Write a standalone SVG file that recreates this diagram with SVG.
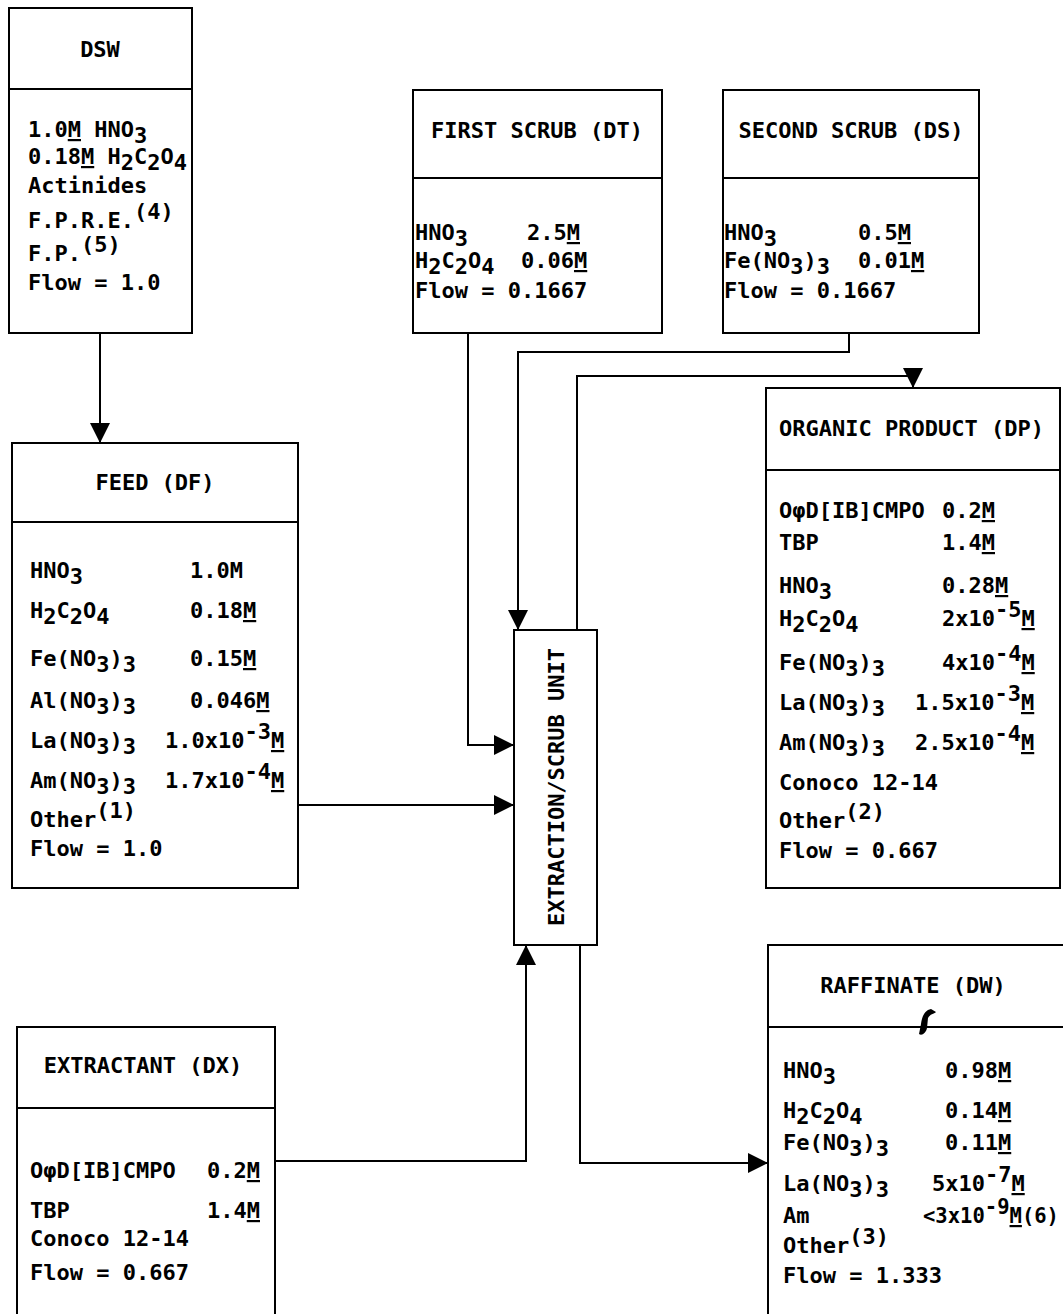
<svg xmlns="http://www.w3.org/2000/svg" width="1063" height="1314" viewBox="0 0 1063 1314">
<style>
.t{font-family:"DejaVu Sans Mono","Liberation Mono",monospace;font-size:22px;font-weight:bold;fill:#000}
.c{text-anchor:middle}
.u{text-decoration:underline}
.b{fill:#fff;stroke:#000;stroke-width:2}
.l{stroke:#000;stroke-width:2;fill:none}
</style>
<defs>
<marker id="ah" viewBox="0 0 10 10" refX="10" refY="5" markerWidth="20" markerHeight="20" markerUnits="userSpaceOnUse" orient="auto">
<path d="M0,0 L10,5 L0,10 z" fill="#000"/>
</marker>
</defs>
<rect width="1063" height="1314" fill="#fff"/>

<g id="connectors">
<path class="l" d="M100,333 V443" marker-end="url(#ah)"/>
<path class="l" d="M468,333 V745 H514" marker-end="url(#ah)"/>
<path class="l" d="M849,333 V352 H518 V630" marker-end="url(#ah)"/>
<path class="l" d="M298,805 H514" marker-end="url(#ah)"/>
<path class="l" d="M275,1161 H526 V945" marker-end="url(#ah)"/>
<path class="l" d="M580,945 V1163 H768" marker-end="url(#ah)"/>
<path class="l" d="M577,630 V376 H913 V388" marker-end="url(#ah)"/>
</g>

<g id="dsw">
<rect class="b" x="9" y="8" width="183" height="325"/>
<line class="l" x1="9" y1="89" x2="192" y2="89"/>
<text class="t c" x="100" y="57">DSW</text>
<text class="t" x="28" y="137">1.0<tspan class="u">M</tspan> HNO<tspan dy="6">3</tspan></text>
<text class="t" x="28" y="164">0.18<tspan class="u">M</tspan> H<tspan dy="6">2</tspan><tspan dy="-6">C</tspan><tspan dy="6">2</tspan><tspan dy="-6">O</tspan><tspan dy="6">4</tspan></text>
<text class="t" x="28" y="193">Actinides</text>
<text class="t" x="28" y="228">F.P.R.E.<tspan dy="-9">(4)</tspan></text>
<text class="t" x="28" y="261">F.P.<tspan dy="-9">(5)</tspan></text>
<text class="t" x="28" y="290">Flow = 1.0</text>
</g>

<g id="first-scrub">
<rect class="b" x="413" y="90" width="249" height="243"/>
<line class="l" x1="413" y1="178" x2="662" y2="178"/>
<text class="t c" x="537" y="138">FIRST SCRUB (DT)</text>
<text class="t" x="415" y="240">HNO<tspan dy="6">3</tspan></text>
<text class="t" x="527" y="240">2.5<tspan class="u">M</tspan></text>
<text class="t" x="415" y="268">H<tspan dy="6">2</tspan><tspan dy="-6">C</tspan><tspan dy="6">2</tspan><tspan dy="-6">O</tspan><tspan dy="6">4</tspan></text>
<text class="t" x="521" y="268">0.06<tspan class="u">M</tspan></text>
<text class="t" x="415" y="298">Flow = 0.1667</text>
</g>

<g id="second-scrub">
<rect class="b" x="723" y="90" width="256" height="243"/>
<line class="l" x1="723" y1="178" x2="979" y2="178"/>
<text class="t c" x="851" y="138">SECOND SCRUB (DS)</text>
<text class="t" x="724" y="240">HNO<tspan dy="6">3</tspan></text>
<text class="t" x="858" y="240">0.5<tspan class="u">M</tspan></text>
<text class="t" x="724" y="268">Fe(NO<tspan dy="6">3</tspan><tspan dy="-6">)</tspan><tspan dy="6">3</tspan></text>
<text class="t" x="858" y="268">0.01<tspan class="u">M</tspan></text>
<text class="t" x="724" y="298">Flow = 0.1667</text>
</g>

<g id="feed">
<rect class="b" x="12" y="443" width="286" height="445"/>
<line class="l" x1="12" y1="522" x2="298" y2="522"/>
<text class="t c" x="155" y="490">FEED (DF)</text>
<text class="t" x="30" y="578">HNO<tspan dy="6">3</tspan></text>
<text class="t" x="190" y="578">1.0M</text>
<text class="t" x="30" y="618">H<tspan dy="6">2</tspan><tspan dy="-6">C</tspan><tspan dy="6">2</tspan><tspan dy="-6">O</tspan><tspan dy="6">4</tspan></text>
<text class="t" x="190" y="618">0.18<tspan class="u">M</tspan></text>
<text class="t" x="30" y="666">Fe(NO<tspan dy="6">3</tspan><tspan dy="-6">)</tspan><tspan dy="6">3</tspan></text>
<text class="t" x="190" y="666">0.15<tspan class="u">M</tspan></text>
<text class="t" x="30" y="708">Al(NO<tspan dy="6">3</tspan><tspan dy="-6">)</tspan><tspan dy="6">3</tspan></text>
<text class="t" x="190" y="708">0.046<tspan class="u">M</tspan></text>
<text class="t" x="30" y="748">La(NO<tspan dy="6">3</tspan><tspan dy="-6">)</tspan><tspan dy="6">3</tspan></text>
<text class="t" x="165" y="748">1.0x10<tspan dy="-9">-3</tspan><tspan dy="9" class="u">M</tspan></text>
<text class="t" x="30" y="788">Am(NO<tspan dy="6">3</tspan><tspan dy="-6">)</tspan><tspan dy="6">3</tspan></text>
<text class="t" x="165" y="788">1.7x10<tspan dy="-9">-4</tspan><tspan dy="9" class="u">M</tspan></text>
<text class="t" x="30" y="827">Other<tspan dy="-9">(1)</tspan></text>
<text class="t" x="30" y="856">Flow = 1.0</text>
</g>

<g id="extraction-scrub-unit">
<rect class="b" x="514" y="630" width="83" height="315"/>
<text class="t c" transform="translate(556,787) rotate(-90)" x="0" y="8">EXTRACTION/SCRUB UNIT</text>
</g>

<g id="organic-product">
<rect class="b" x="766" y="388" width="294" height="500"/>
<line class="l" x1="766" y1="470" x2="1060" y2="470"/>
<text class="t" x="779" y="436">ORGANIC PRODUCT (DP)</text>
<text class="t" x="779" y="518">OφD[IB]CMPO</text>
<text class="t" x="942" y="518">0.2<tspan class="u">M</tspan></text>
<text class="t" x="779" y="550">TBP</text>
<text class="t" x="942" y="550">1.4<tspan class="u">M</tspan></text>
<text class="t" x="779" y="593">HNO<tspan dy="6">3</tspan></text>
<text class="t" x="942" y="593">0.28<tspan class="u">M</tspan></text>
<text class="t" x="779" y="626">H<tspan dy="6">2</tspan><tspan dy="-6">C</tspan><tspan dy="6">2</tspan><tspan dy="-6">O</tspan><tspan dy="6">4</tspan></text>
<text class="t" x="942" y="626">2x10<tspan dy="-9">-5</tspan><tspan dy="9" class="u">M</tspan></text>
<text class="t" x="779" y="670">Fe(NO<tspan dy="6">3</tspan><tspan dy="-6">)</tspan><tspan dy="6">3</tspan></text>
<text class="t" x="942" y="670">4x10<tspan dy="-9">-4</tspan><tspan dy="9" class="u">M</tspan></text>
<text class="t" x="779" y="710">La(NO<tspan dy="6">3</tspan><tspan dy="-6">)</tspan><tspan dy="6">3</tspan></text>
<text class="t" x="915" y="710">1.5x10<tspan dy="-9">-3</tspan><tspan dy="9" class="u">M</tspan></text>
<text class="t" x="779" y="750">Am(NO<tspan dy="6">3</tspan><tspan dy="-6">)</tspan><tspan dy="6">3</tspan></text>
<text class="t" x="915" y="750">2.5x10<tspan dy="-9">-4</tspan><tspan dy="9" class="u">M</tspan></text>
<text class="t" x="779" y="790">Conoco 12-14</text>
<text class="t" x="779" y="828">Other<tspan dy="-9">(2)</tspan></text>
<text class="t" x="779" y="858">Flow = 0.667</text>
</g>

<g id="raffinate">
<path class="l" d="M768,1314 V945 H1063 M768,1027 H1063"/>
<text class="t c" x="913" y="993">RAFFINATE (DW)</text>
<path d="M931,1009 C925,1010 922,1016 921,1024 L919,1034 C922,1036 926,1033 927,1028 L928,1018 C930,1014 934,1014 936,1012 Z" fill="#000"/>
<text class="t" x="783" y="1078">HNO<tspan dy="6">3</tspan></text>
<text class="t" x="945" y="1078">0.98<tspan class="u">M</tspan></text>
<text class="t" x="783" y="1118">H<tspan dy="6">2</tspan><tspan dy="-6">C</tspan><tspan dy="6">2</tspan><tspan dy="-6">O</tspan><tspan dy="6">4</tspan></text>
<text class="t" x="945" y="1118">0.14<tspan class="u">M</tspan></text>
<text class="t" x="783" y="1150">Fe(NO<tspan dy="6">3</tspan><tspan dy="-6">)</tspan><tspan dy="6">3</tspan></text>
<text class="t" x="945" y="1150">0.11<tspan class="u">M</tspan></text>
<text class="t" x="783" y="1191">La(NO<tspan dy="6">3</tspan><tspan dy="-6">)</tspan><tspan dy="6">3</tspan></text>
<text class="t" x="932" y="1191">5x10<tspan dy="-9">-7</tspan><tspan dy="9" class="u">M</tspan></text>
<text class="t" x="783" y="1223">Am</text>
<text class="t" x="923" y="1223" textLength="136" lengthAdjust="spacingAndGlyphs">&lt;3x10<tspan dy="-9">-9</tspan><tspan dy="9" class="u">M</tspan>(6)</text>
<text class="t" x="783" y="1253">Other<tspan dy="-9">(3)</tspan></text>
<text class="t" x="783" y="1283">Flow = 1.333</text>
</g>

<g id="extractant">
<path class="l" d="M17,1314 V1027 H275 V1314 M17,1108 H275"/>
<text class="t c" x="143" y="1073">EXTRACTANT (DX)</text>
<text class="t" x="30" y="1178">OφD[IB]CMPO</text>
<text class="t" x="207" y="1178">0.2<tspan class="u">M</tspan></text>
<text class="t" x="30" y="1218">TBP</text>
<text class="t" x="207" y="1218">1.4<tspan class="u">M</tspan></text>
<text class="t" x="30" y="1246">Conoco 12-14</text>
<text class="t" x="30" y="1280">Flow = 0.667</text>
</g>
</svg>
